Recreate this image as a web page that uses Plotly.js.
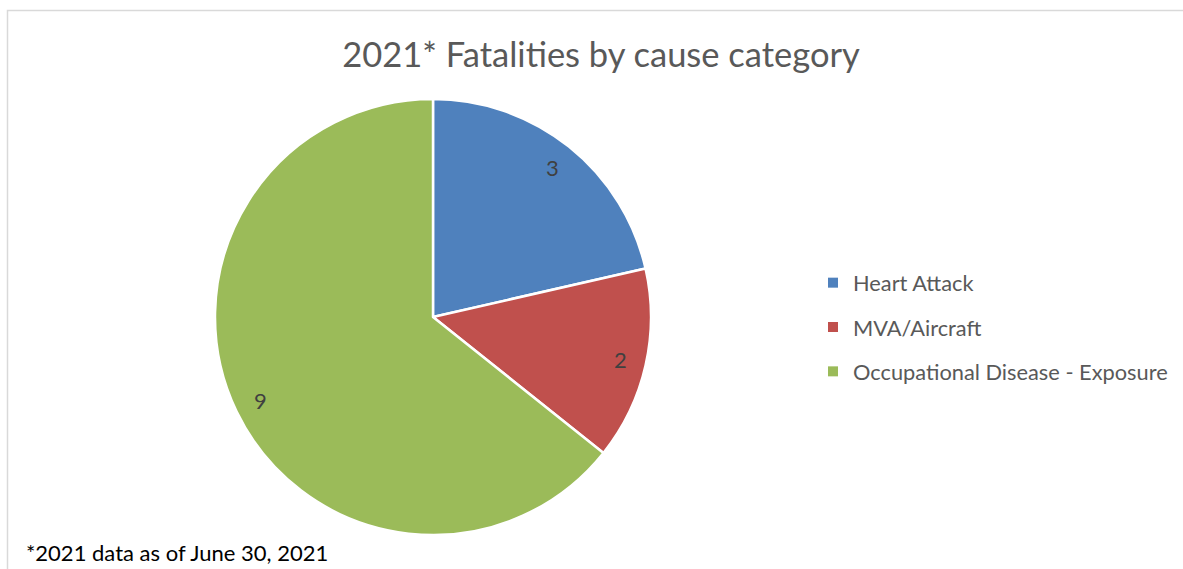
<!DOCTYPE html>
<html>
<head>
<meta charset="utf-8">
<script src="https://cdn.plot.ly/plotly-3.0.1.min.js"></script>
<style>
html,body{margin:0;padding:0;background:#fff;}
#chart{width:1183px;height:569px;}
</style>
</head>
<body>
<div id="chart"></div>
<script>
var categories = ["Heart Attack", "MVA/Aircraft", "Occupational Disease - Exposure"];
var values = [3, 2, 9];
var colors = ["#4F81BD", "#C0504D", "#9BBB59"];
var titleText = "2021* Fatalities by cause category";
var footnote = "*2021 data as of June 30, 2021";

var W = 1183, H = 569;
var FONT = "Lato, 'Open Sans', sans-serif";

// pie geometry (pixels) -> domain
var pieCx = 433, pieCy = 317, pieR = 218;
var domX = [(pieCx - pieR) / W, (pieCx + pieR) / W];
var domY = [1 - (pieCy + pieR) / H, 1 - (pieCy - pieR) / H];

var pie = {
  type: "pie",
  labels: categories,
  values: values,
  sort: false,
  direction: "clockwise",
  rotation: 0,
  marker: {colors: colors, line: {color: "#ffffff", width: 2.5}},
  textinfo: "none",
  domain: {x: domX, y: domY},
  showlegend: false,
  hoverinfo: "label+value+percent"
};

var legendTraces = categories.map(function (c, i) {
  return {
    type: "scatter", mode: "markers", x: [null], y: [null],
    name: c, legendgroup: "g" + i,
    marker: {symbol: "square", size: 10, color: colors[i]},
    showlegend: true, hoverinfo: "skip"
  };
});

// data labels placed along each slice's mid-angle, derived from the values
var total = values.reduce(function (a, b) { return a + b; }, 0);
var labelAnns = [];
var cum = 0;
var labelRadius = 0.88;
values.forEach(function (v) {
  var mid = (cum + v / 2) / total * 2 * Math.PI;
  cum += v;
  var px = pieCx + pieR * labelRadius * Math.sin(mid);
  var py = pieCy - pieR * labelRadius * Math.cos(mid);
  labelAnns.push({
    text: String(v), xref: "paper", yref: "paper",
    x: px / W, y: 1 - py / H, xanchor: "center", yanchor: "middle",
    showarrow: false, font: {family: FONT, size: 22, color: "#404040"}
  });
});

var layout = {
  width: W, height: H,
  margin: {l: 0, r: 0, t: 0, b: 0},
  paper_bgcolor: "#ffffff",
  plot_bgcolor: "rgba(0,0,0,0)",
  font: {family: FONT, color: "#595959"},
  title: {
    text: titleText,
    font: {family: FONT, size: 34.5, color: "#595959"},
    x: 601 / W, xanchor: "center",
    y: 1 - 55 / H, yanchor: "middle"
  },
  xaxis: {visible: false},
  yaxis: {visible: false},
  legend: {
    x: 813 / W, xanchor: "left",
    y: 1 - 262 / H, yanchor: "top",
    font: {family: FONT, size: 21.8, color: "#595959"},
    tracegroupgap: 13,
    bgcolor: "rgba(0,0,0,0)"
  },
  shapes: [{
    type: "rect", xref: "paper", yref: "paper",
    x0: 7.5 / W, x1: 1.01, y0: -0.05, y1: 1 - 10.5 / H,
    line: {color: "#D9D9D9", width: 1.5}, fillcolor: "rgba(0,0,0,0)", layer: "below"
  }],
  annotations: [{
    text: footnote, xref: "paper", yref: "paper",
    x: 24 / W, xanchor: "left", y: 1 - 552 / H, yanchor: "middle",
    showarrow: false, font: {family: FONT, size: 22, color: "#000000"}
  }].concat(labelAnns)
};

Plotly.newPlot("chart", [pie].concat(legendTraces), layout, {displayModeBar: false, staticPlot: true});
</script>
</body>
</html>
